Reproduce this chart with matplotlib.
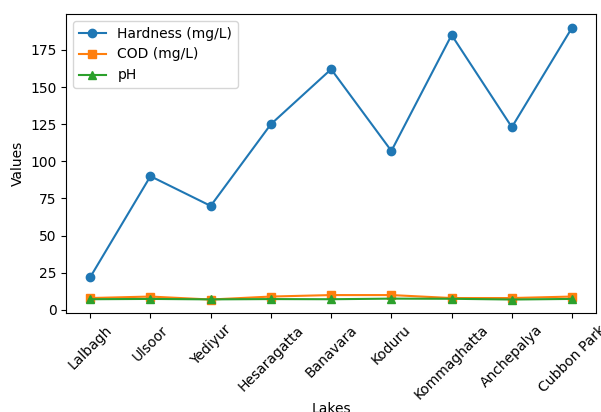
import matplotlib
matplotlib.use('Agg')
import matplotlib.pyplot as plt

# 各湖泊水质数据
lakes = ['Lalbagh', 'Ulsoor', 'Yediyur', 'Hesaragatta', 'Banavara',
         'Koduru', 'Kommaghatta', 'Anchepalya', 'Cubbon Park']
hardness = [22, 90, 70, 125, 162, 107, 185, 123, 190]
cod = [8, 9, 7, 9, 10, 10, 8, 8, 9]
ph = [7.2, 7.4, 7.1, 7.3, 7.2, 7.6, 7.5, 7.0, 7.4]

fig = plt.figure(figsize=(6.01, 4.12), dpi=100)
ax = fig.add_axes([0.110, 0.240, 0.882, 0.726])

ax.plot(lakes, hardness, marker='o', label='Hardness (mg/L)')
ax.plot(lakes, cod, marker='s', label='COD (mg/L)')
ax.plot(lakes, ph, marker='^', label='pH')

ax.set_xlabel('Lakes', labelpad=0)
ax.set_ylabel('Values')
ax.legend(loc='upper left')
plt.setp(ax.get_xticklabels(), rotation=45)

plt.savefig('out.png', dpi=100)
